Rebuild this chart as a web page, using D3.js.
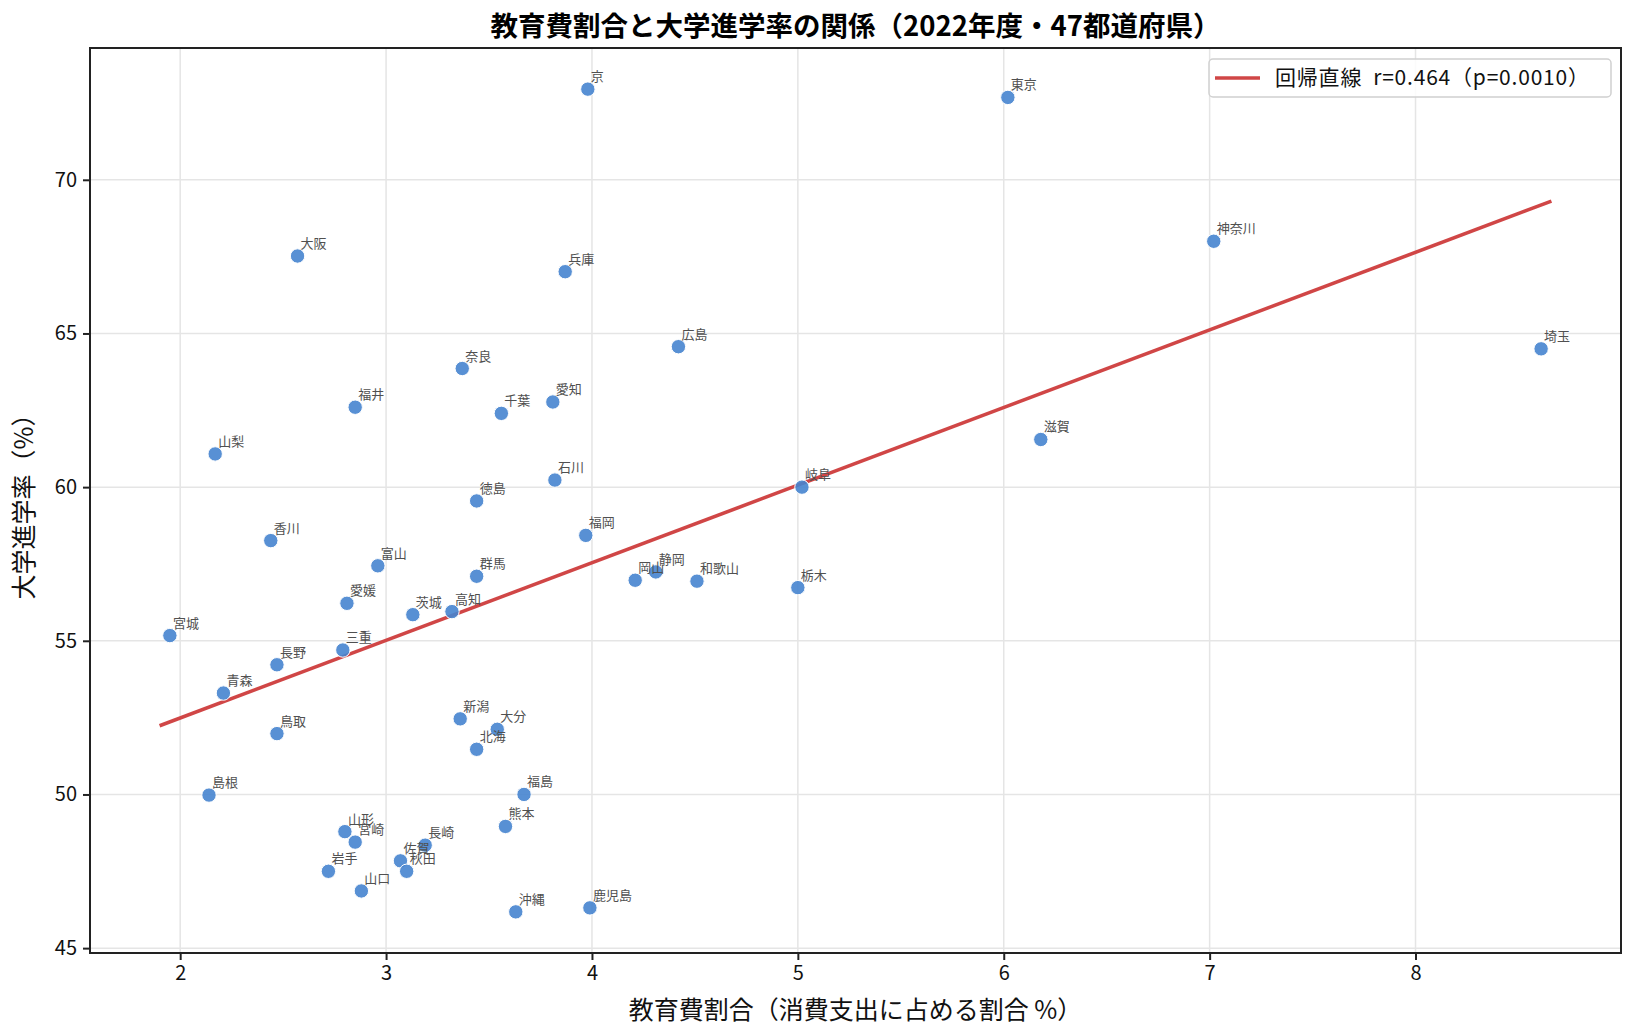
<!DOCTYPE html>
<html>
<head>
<meta charset="utf-8">
<script src="https://cdn.jsdelivr.net/npm/d3@7"></script>
<style>
  body { margin: 0; background: #fff; }
  svg text { font-family: "Noto Sans CJK JP", "Noto Sans", sans-serif; }
</style>
</head>
<body>
<svg id="chart"></svg>
<script>
// <========================== data =====================================================>
const prefectures = [
  "京", "東京", "神奈川", "埼玉", "大阪", "兵庫", "広島", "奈良", "福井", "千葉",
  "愛知", "山梨", "滋賀", "石川", "岐阜", "徳島", "福岡", "香川", "富山", "群馬",
  "静岡", "岡山", "和歌山", "栃木", "愛媛", "茨城", "高知", "宮城", "三重", "長野",
  "青森", "新潟", "大分", "鳥取", "北海", "福島", "島根", "熊本", "山形", "宮崎",
  "長崎", "佐賀", "秋田", "岩手", "山口", "沖縄", "鹿児島"
];
const eduShare = [
  3.98, 6.02, 7.02, 8.61, 2.57, 3.87, 4.42, 3.37, 2.85, 3.56,
  3.81, 2.17, 6.18, 3.82, 5.02, 3.44, 3.97, 2.44, 2.96, 3.44,
  4.31, 4.21, 4.51, 5.00, 2.81, 3.13, 3.32, 1.95, 2.79, 2.47,
  2.21, 3.36, 3.54, 2.47, 3.44, 3.67, 2.14, 3.58, 2.80, 2.85,
  3.19, 3.07, 3.10, 2.72, 2.88, 3.63, 3.99
];
const uniRate = [
  72.95, 72.68, 68.00, 64.50, 67.52, 67.01, 64.57, 63.86, 62.60, 62.40,
  62.77, 61.08, 61.55, 60.23, 60.00, 59.55, 58.43, 58.26, 57.44, 57.10,
  57.24, 56.97, 56.94, 56.73, 56.22, 55.85, 55.95, 55.17, 54.70, 54.22,
  53.30, 52.46, 52.12, 51.98, 51.47, 50.00, 49.98, 48.96, 48.79, 48.45,
  48.35, 47.84, 47.50, 47.50, 46.86, 46.18, 46.31
];
const xTicks = [2, 3, 4, 5, 6, 7, 8];
const yTicks = [45, 50, 55, 60, 65, 70];
const legendLabel = "回帰直線\u00a0\u00a0r=0.464（p=0.0010）";
const titleText = "教育費割合と大学進学率の関係（2022年度・47都道府県）";
const xLabel = "教育費割合（消費支出に占める割合 %）";
const yLabel = "大学進学率（%）";

// <========================== layout ==============================>
const width = 1635, height = 1035;
const margin = { top: 48, right: 14, bottom: 82, left: 90 };
const innerWidth = width - margin.left - margin.right;
const innerHeight = height - margin.top - margin.bottom;

const points = prefectures.map((name, i) => ({ name, x: eduShare[i], y: uniRate[i] }));

// least squares fit
const mx = d3.mean(eduShare), my = d3.mean(uniRate);
const sxy = d3.sum(points, (d) => (d.x - mx) * (d.y - my));
const sxx = d3.sum(points, (d) => (d.x - mx) ** 2);
const slope = sxy / sxx;
const intercept = my - slope * mx;
const [dxMin, dxMax] = d3.extent(eduShare);
const fitLine = [dxMin - 0.05, dxMax + 0.05].map((x) => ({ x, y: intercept + slope * x }));

// matplotlib-ish 5% margins
const pad = ([a, b]) => [a - (b - a) * 0.05, b + (b - a) * 0.05];
const xScale = d3.scaleLinear().domain(pad(d3.extent(fitLine, (d) => d.x))).range([0, innerWidth]);
const yScale = d3.scaleLinear().domain(pad(d3.extent(uniRate))).range([innerHeight, 0]);

const svg = d3.select("#chart").attr("width", width).attr("height", height);
const g = svg.append("g").attr("transform", `translate(${margin.left},${margin.top})`);

// grid
g.append("g").selectAll("line").data(xTicks).join("line")
  .attr("x1", (d) => xScale(d)).attr("x2", (d) => xScale(d))
  .attr("y1", 0).attr("y2", innerHeight)
  .attr("stroke", "#e5e5e5").attr("stroke-width", 1.5);
g.append("g").selectAll("line").data(yTicks).join("line")
  .attr("y1", (d) => yScale(d)).attr("y2", (d) => yScale(d))
  .attr("x1", 0).attr("x2", innerWidth)
  .attr("stroke", "#e5e5e5").attr("stroke-width", 1.5);

// regression line
g.append("path")
  .datum(fitLine)
  .attr("d", d3.line().x((d) => xScale(d.x)).y((d) => yScale(d.y)))
  .attr("fill", "none")
  .attr("stroke", "#d04646")
  .attr("stroke-width", 3.6);

// points
g.append("g").selectAll("circle").data(points).join("circle")
  .attr("cx", (d) => xScale(d.x))
  .attr("cy", (d) => yScale(d.y))
  .attr("r", 7.2)
  .attr("fill", "#4684cf")
  .attr("fill-opacity", 0.9)
  .attr("stroke", "#fff")
  .attr("stroke-width", 1);

// labels
g.append("g").selectAll("text").data(points).join("text")
  .attr("x", (d) => xScale(d.x) + 3)
  .attr("y", (d) => yScale(d.y) - 8)
  .attr("font-size", 13)
  .attr("fill", "#505050")
  .text((d) => d.name);

// axes
const xAxis = g.append("g")
  .attr("transform", `translate(0,${innerHeight})`)
  .call(d3.axisBottom(xScale).tickValues(xTicks).tickFormat(d3.format("d")).tickSize(7).tickPadding(6));
const yAxis = g.append("g")
  .call(d3.axisLeft(yScale).tickValues(yTicks).tickFormat(d3.format("d")).tickSize(7).tickPadding(6));
[xAxis, yAxis].forEach((ax) => {
  ax.select(".domain").remove();
  ax.selectAll(".tick line").attr("stroke", "#222").attr("stroke-width", 2);
  ax.selectAll(".tick text").attr("font-size", 20).attr("fill", "#111")
    .attr("font-family", "\"Noto Sans CJK JP\", sans-serif");
});

// spines
g.append("rect")
  .attr("width", innerWidth).attr("height", innerHeight)
  .attr("fill", "none").attr("stroke", "#222").attr("stroke-width", 2);

// legend
const legend = g.append("g").attr("transform", `translate(${innerWidth - 412},11)`);
legend.append("rect")
  .attr("width", 402).attr("height", 38).attr("rx", 4)
  .attr("fill", "#fff").attr("fill-opacity", 0.85)
  .attr("stroke", "#d0d0d0").attr("stroke-width", 1.5);
legend.append("line")
  .attr("x1", 6).attr("x2", 51).attr("y1", 19).attr("y2", 19)
  .attr("stroke", "#d04646").attr("stroke-width", 3.6);
legend.append("text")
  .attr("x", 66).attr("y", 26)
  .attr("font-size", 21).attr("fill", "#111")
  .attr("textLength", 314).attr("lengthAdjust", "spacing")
  .text(legendLabel);

// titles
svg.append("text")
  .attr("x", margin.left + innerWidth / 2).attr("y", 36)
  .attr("text-anchor", "middle")
  .attr("font-size", 27.5).attr("font-weight", "bold").attr("fill", "#000")
  .text(titleText);
svg.append("text")
  .attr("x", margin.left + innerWidth / 2).attr("y", 1019)
  .attr("text-anchor", "middle")
  .attr("font-size", 25).attr("fill", "#111")
  .text(xLabel);
svg.append("text")
  .attr("transform", `translate(33,${margin.top + innerHeight / 2}) rotate(-90)`)
  .attr("text-anchor", "middle")
  .attr("font-size", 25).attr("fill", "#111")
  .text(yLabel);
</script>
</body>
</html>
